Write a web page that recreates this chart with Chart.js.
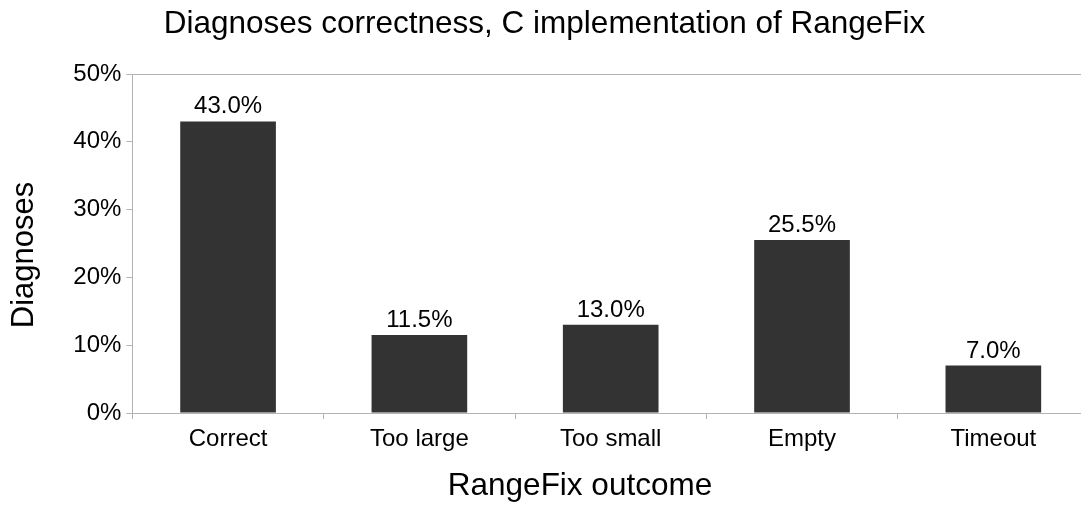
<!DOCTYPE html>
<html>
<head>
<meta charset="utf-8">
<script src="https://cdn.jsdelivr.net/npm/chart.js@4/dist/chart.umd.min.js"></script>
<style>
  html, body { margin: 0; padding: 0; background: #fff; overflow: hidden; }
  #wrap { width: 1089px; height: 505px; }
</style>
</head>
<body>
<div id="wrap"><canvas id="grafico"></canvas></div>
<script>
// categorias y valores (porcentaje de diagnosticos)
const categorias = ["Correct", "Too large", "Too small", "Empty", "Timeout"];
const valores = [43.0, 11.5, 13.0, 25.5, 7.0];
const ticksY = [0, 10, 20, 30, 40, 50];

const fuente = "'Liberation Sans', Arial, sans-serif";
const gris = "#b3b3b3";

// etiquetas encima de cada barra y titulos de los ejes
const extras = {
    id: "extras",
    afterDatasetsDraw(chart) {
        const ctx = chart.ctx;
        ctx.save();
        ctx.fillStyle = "#000";
        ctx.font = "24px " + fuente;
        ctx.textAlign = "center";
        ctx.textBaseline = "alphabetic";
        chart.getDatasetMeta(0).data.forEach((barra, i) => {
            ctx.fillText(valores[i].toFixed(1) + "%", barra.x, barra.y - 8);
        });
        ctx.font = "31.5px " + fuente;
        ctx.fillText("RangeFix outcome", 580, 495);
        ctx.font = "31px " + fuente;
        ctx.translate(33, 255);
        ctx.rotate(-Math.PI / 2);
        ctx.fillText("Diagnoses", 0, 0);
        ctx.restore();
    }
};

new Chart(document.getElementById("grafico").getContext("2d"), {
    type: "bar",
    data: {
        labels: categorias,
        datasets: [
            {
                label: "Diagnoses",
                data: valores,
                backgroundColor: "#333333",
                categoryPercentage: 1,
                barPercentage: 0.5
            }
        ]
    },
    options: {
        responsive: true,
        maintainAspectRatio: false,
        animation: false,
        layout: { padding: 0 },
        plugins: {
            legend: { display: false },
            tooltip: { enabled: false },
            title: {
                display: true,
                text: "Diagnoses correctness, C implementation of RangeFix",
                color: "#000",
                font: { family: fuente, size: 31.5, weight: "normal" },
                padding: { top: 5, bottom: 31.2 }
            }
        },
        scales: {
            x: {
                afterFit: (s) => { s.height = 92; },
                grid: {
                    drawOnChartArea: false,
                    tickLength: 6,
                    tickColor: gris,
                    offset: true
                },
                border: { color: gris },
                ticks: {
                    color: "#000",
                    padding: 6,
                    font: { family: fuente, size: 24 }
                }
            },
            y: {
                min: 0,
                max: 50,
                afterFit: (s) => { s.width = 132.4; },
                afterBuildTicks: (s) => { s.ticks = ticksY.map((v) => ({ value: v })); },
                grid: {
                    color: (c) => (c.tick && c.tick.value === 50 ? gris : "transparent"),
                    tickColor: gris,
                    tickLength: 6
                },
                border: { color: gris },
                ticks: {
                    color: "#000",
                    padding: 5,
                    font: { family: fuente, size: 24 },
                    callback: (v) => v + "%"
                }
            }
        }
    },
    plugins: [extras]
});
</script>
</body>
</html>
